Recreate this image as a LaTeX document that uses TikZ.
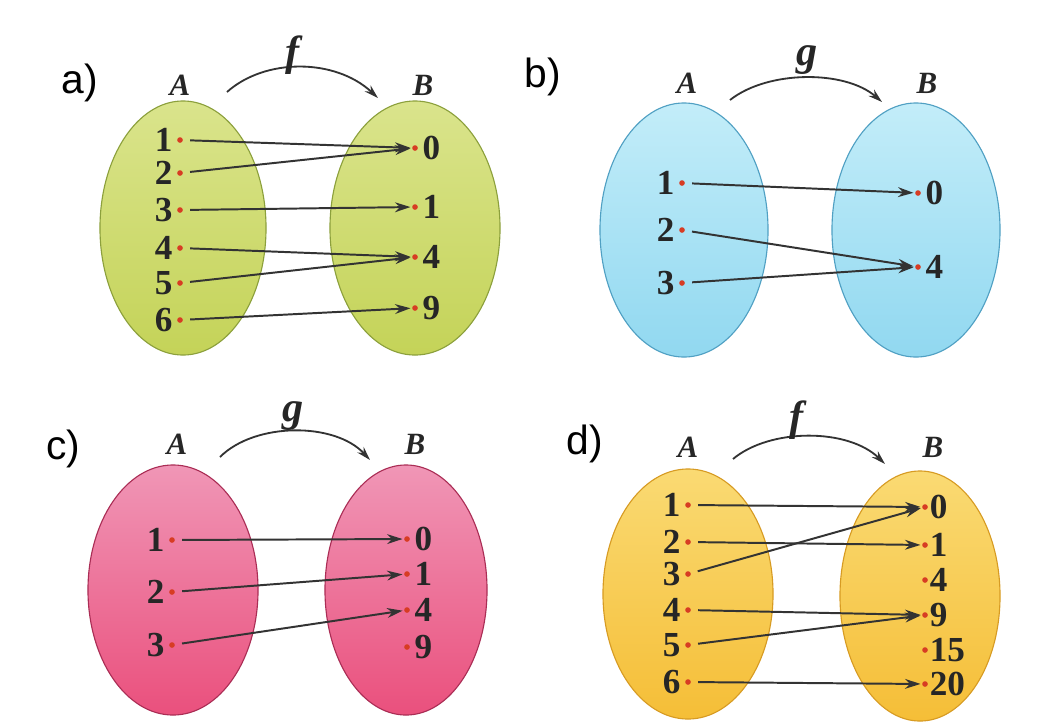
\documentclass[tikz,border=0pt]{standalone}
\usepackage{fontspec}
\setmainfont{Liberation Serif}
\setsansfont{Liberation Sans}
\usetikzlibrary{arrows.meta, positioning, shapes.geometric}
\definecolor{dotred}{RGB}{215,60,35}
\definecolor{limetop}{RGB}{218,228,140}
\definecolor{limebot}{RGB}{196,211,88}
\definecolor{limeline}{RGB}{140,160,60}
\definecolor{skytop}{RGB}{195,237,249}
\definecolor{skybot}{RGB}{145,216,240}
\definecolor{skyline}{RGB}{80,160,195}
\definecolor{rosetop}{RGB}{240,150,182}
\definecolor{rosebot}{RGB}{234,80,125}
\definecolor{roseline}{RGB}{170,45,85}
\definecolor{suntop}{RGB}{250,218,115}
\definecolor{sunbot}{RGB}{245,190,55}
\definecolor{sunline}{RGB}{215,155,35}

\begin{document}
\begin{tikzpicture}[x=0.025cm, y=-0.025cm,
    setbox/.style={ellipse, line width=0.8pt, minimum width=4.2cm, minimum height=6.3cm},
    elem/.style={circle, fill=dotred, inner sep=0pt, minimum size=4pt},
    num/.style={font=\bfseries\fontsize{25}{27}\selectfont, text=black!85, inner sep=0pt},
    map/.style={-{Stealth[length=11pt, width=7pt]}, line width=1.4pt, black!80, shorten <=5pt, shorten >=1pt},
    bow/.style={-{Stealth[length=10pt, width=6pt]}, line width=1.3pt, black!80},
    tag/.style={font=\sffamily\fontsize{29}{32}\selectfont},
    setname/.style={font=\bfseries\itshape\fontsize{22}{24}\selectfont, text=black!85},
    fname/.style={font=\bfseries\itshape\fontsize{30}{32}\selectfont, text=black!85}
  ]
  \useasboundingbox (0,0) rectangle (1039,725);

  % a)
  \node[setbox, minimum width=4.15cm, minimum height=6.35cm, top color=limetop, bottom color=limebot, draw=limeline] (setAa) at (183,228) {};
  \node[setbox, minimum width=4.25cm, minimum height=6.35cm, top color=limetop, bottom color=limebot, draw=limeline] (setBa) at (415,228) {};
  \node[tag] (taga) at (80,83) {a)};
  \node[setname] (nameAa) at (180,85) {A};
  \node[setname] (nameBa) at (423,85) {B};
  \coordinate (fa0) at (227,92);
  \coordinate (fa1) at (378,98);
  \draw[bow] (fa0) .. controls (265,58) and (335,58) .. (fa1);
  \node[fname] (fa) at (293,55) {f};
  \foreach \n/\y in {1/140,2/173,3/210,4/248,5/283,6/320}{
    \node[elem] (aA\n) at (180,\y) {};
    \node[num, left=3pt of aA\n] (laA\n) {\n};
  }
  \foreach \n/\y in {0/148,1/207,4/257,9/308}{
    \node[elem] (aB\n) at (415,\y) {};
    \node[num, right=3pt of aB\n] (laB\n) {\n};
  }
  \foreach \s/\t in {1/0,2/0,3/1,4/4,5/4,6/9}
    \draw[map] (aA\s) -- (aB\t);

  % b)
  \node[setbox, minimum width=4.2cm, minimum height=6.35cm, top color=skytop, bottom color=skybot, draw=skyline] (setAb) at (684,230) {};
  \node[setbox, minimum width=4.2cm, minimum height=6.35cm, top color=skytop, bottom color=skybot, draw=skyline] (setBb) at (916,230) {};
  \node[tag] (tagb) at (543,77) {b)};
  \node[setname] (nameAb) at (687,83) {A};
  \node[setname] (nameBb) at (927,83) {B};
  \coordinate (gb0) at (730,100);
  \coordinate (gb1) at (882,102);
  \draw[bow] (gb0) .. controls (768,70) and (845,70) .. (gb1);
  \node[fname] (gb) at (807,60) {g};
  \foreach \n/\y in {1/183,2/230,3/283}{
    \node[elem] (bA\n) at (682,\y) {};
    \node[num, left=3pt of bA\n] (lbA\n) {\n};
  }
  \foreach \n/\y in {0/193,4/267}{
    \node[elem] (bB\n) at (918,\y) {};
    \node[num, right=3pt of bB\n] (lbB\n) {\n};
  }
  \foreach \s/\t in {1/0,2/4,3/4}
    \draw[map] (bA\s) -- (bB\t);

  % c)
  \node[setbox, minimum width=4.25cm, minimum height=6.25cm, top color=rosetop, bottom color=rosebot, draw=roseline] (setAc) at (173,590) {};
  \node[setbox, minimum width=4.05cm, minimum height=6.25cm, top color=rosetop, bottom color=rosebot, draw=roseline] (setBc) at (406,590) {};
  \node[tag] (tagc) at (63,449) {c)};
  \node[setname] (nameAc) at (177,444) {A};
  \node[setname] (nameBc) at (415,444) {B};
  \coordinate (gc0) at (220,457);
  \coordinate (gc1) at (370,460);
  \draw[bow] (gc0) .. controls (255,422) and (335,422) .. (gc1);
  \node[fname] (gc) at (293,416) {g};
  \foreach \n/\y in {1/540,2/592,3/645}{
    \node[elem] (cA\n) at (172,\y) {};
    \node[num, left=3pt of cA\n] (lcA\n) {\n};
  }
  \foreach \n/\y in {0/539,1/574,4/610,9/647}{
    \node[elem] (cB\n) at (407,\y) {};
    \node[num, right=3pt of cB\n] (lcB\n) {\n};
  }
  \foreach \s/\t in {1/0,2/1,3/4}
    \draw[map] (cA\s) -- (cB\t);

  % d)
  \node[setbox, minimum width=4.25cm, minimum height=6.25cm, top color=suntop, bottom color=sunbot, draw=sunline] (setAd) at (688,594) {};
  \node[setbox, minimum width=4.0cm, minimum height=6.25cm, top color=suntop, bottom color=sunbot, draw=sunline] (setBd) at (920,596) {};
  \node[tag] (tagd) at (585,444) {d)};
  \node[setname] (nameAd) at (688,447) {A};
  \node[setname] (nameBd) at (933,447) {B};
  \coordinate (fd0) at (733,459);
  \coordinate (fd1) at (885,464);
  \draw[bow] (fd0) .. controls (770,428) and (848,428) .. (fd1);
  \node[fname] (fd) at (797,420) {f};
  \foreach \n/\y in {1/505,2/542,3/574,4/610,5/645,6/682}{
    \node[elem] (dA\n) at (688,\y) {};
    \node[num, left=3pt of dA\n] (ldA\n) {\n};
  }
  \foreach \n/\y in {0/507,1/545,4/580,9/615,15/650,20/684}{
    \node[elem] (dB\n) at (925,\y) {};
    \node[num, right=1pt of dB\n] (ldB\n) {\n};
  }
  \foreach \s/\t in {1/0,2/1,3/0,4/9,5/9,6/20}
    \draw[map] (dA\s) -- (dB\t);
\end{tikzpicture}
\end{document}
